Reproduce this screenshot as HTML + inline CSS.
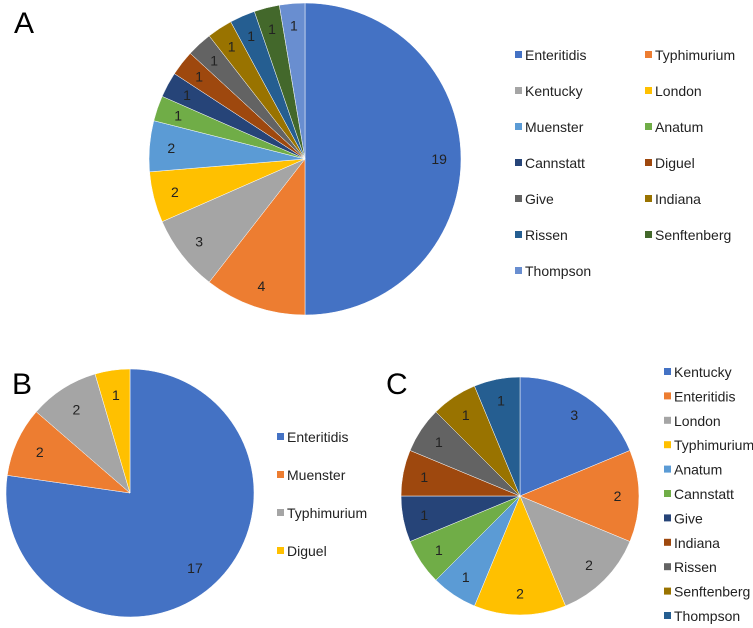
<!DOCTYPE html>
<html><head><meta charset="utf-8"><style>
body{margin:0;background:#fff;}
svg{display:block;font-family:"Liberation Sans",Arial,sans-serif;}
</style></head><body>
<svg id="svg" width="753" height="628">
<text x="14" y="33" font-size="30">A</text>
<text x="12" y="394" font-size="30">B</text>
<text x="386" y="394" font-size="30">C</text>
</svg>
<script>
const aCategories=["Enteritidis","Typhimurium","Kentucky","London","Muenster","Anatum","Cannstatt","Diguel","Give","Indiana","Rissen","Senftenberg","Thompson"];
const aValues=[19,4,3,2,2,1,1,1,1,1,1,1,1];
const aColors=["#4472C4","#ED7D31","#A5A5A5","#FFC000","#5B9BD5","#70AD47","#264478","#9E480E","#636363","#997300","#255E91","#43682B","#698ED0"];
const bCategories=["Enteritidis","Muenster","Typhimurium","Diguel"];
const bValues=[17,2,2,1];
const bColors=["#4472C4","#ED7D31","#A5A5A5","#FFC000"];
const cCategories=["Kentucky","Enteritidis","London","Typhimurium","Anatum","Cannstatt","Give","Indiana","Rissen","Senftenberg","Thompson"];
const cValues=[3,2,2,2,1,1,1,1,1,1,1];
const cColors=["#4472C4","#ED7D31","#A5A5A5","#FFC000","#5B9BD5","#70AD47","#264478","#9E480E","#636363","#997300","#255E91"];
const NS="http://www.w3.org/2000/svg";
const svg=document.getElementById('svg');
function mk(t,a){const e=document.createElementNS(NS,t);for(const k in a)e.setAttribute(k,a[k]);svg.appendChild(e);return e;}
function pie(id,cx,cy,r,cats,vals,cols,lr){
  const tot=vals.reduce((s,v)=>s+v,0);let a0=0;
  vals.forEach((v,i)=>{
    const a1=a0+v/tot*2*Math.PI;
    const x0=cx+r*Math.sin(a0),y0=cy-r*Math.cos(a0),x1=cx+r*Math.sin(a1),y1=cy-r*Math.cos(a1);
    const p=mk('path',{d:`M${cx},${cy}L${x0},${y0}A${r},${r} 0 ${a1-a0>Math.PI?1:0} 1 ${x1},${y1}Z`,fill:cols[i],stroke:'#fff','stroke-width':0.5});
    
    
    const am=(a0+a1)/2;
    const t=mk('text',{x:cx+lr*r*Math.sin(am),y:cy-lr*r*Math.cos(am)+5,'font-size':14,'text-anchor':'middle',fill:'#222'});
    t.textContent=v;
    
    
    a0=a1;
  });
}
function legend(id,cats,cols,pos){
  cats.forEach((c,i)=>{
    const [x,y]=pos(i);
    const s=mk('rect',{x:x,y:y-5,width:7,height:7,fill:cols[i]});
    
    
    const t=mk('text',{x:x+10,y:y+4,'font-size':14,fill:'#222'});
    t.textContent=c;
    
    
  });
}
pie('a',305,159,156,aCategories,aValues,aColors,0.86);
pie('b',130,493,124,bCategories,bValues,bColors,0.8);
pie('c',520,496,119,cCategories,cValues,cColors,0.82);
legend('a',aCategories,aColors,i=>[i%2?645:515,56+Math.floor(i/2)*36]);
legend('b',bCategories,bColors,i=>[277,438+i*38]);
legend('c',cCategories,cColors,i=>[664,373+i*24.4]);
</script>
</body></html>
